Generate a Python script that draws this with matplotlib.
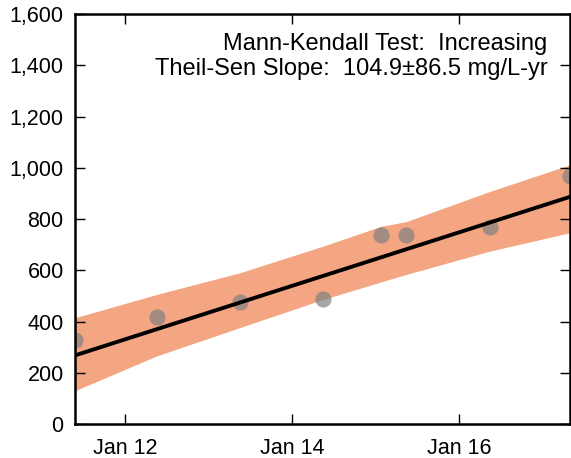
import numpy as np
import matplotlib
matplotlib.use('Agg')
import matplotlib.pyplot as plt
import matplotlib.dates as mdates
import pandas as pd

plt.rcParams['font.family'] = 'Liberation Sans'
plt.rcParams['font.size'] = 15

# sample dates and measured concentrations
dates = pd.to_datetime(['2011-05-27', '2012-05-19', '2013-05-19', '2014-05-15',
                        '2015-01-26', '2015-05-15', '2016-05-15', '2017-05-01'])
conc = [330, 420, 478, 490, 740, 740, 770, 970]

# confidence band around the Theil-Sen line
band_lower = [130, 266, 377, 486, 555, 584, 675, 747]
band_upper = [415, 506, 591, 694, 772, 790, 908, 1012]

# trend line endpoints
trend_x = [dates[0], dates[-1]]
trend_y = [268, 887]

fig = plt.figure(figsize=(5.71, 4.58), dpi=100)
ax = fig.add_axes([0.131, 0.074, 0.867, 0.895])

ax.fill_between(dates, band_lower, band_upper, color='#f4a582', linewidth=0, zorder=1)
ax.scatter(dates, conc, s=135, color='#808080', alpha=0.7, linewidths=0, zorder=2)
ax.plot(trend_x, trend_y, color='black', linewidth=2.8, zorder=3)

ax.set_xlim(dates[0], dates[-1])
ax.set_ylim(0, 1600)
ax.set_yticks(np.arange(0, 1601, 200))
ax.yaxis.set_major_formatter(matplotlib.ticker.FuncFormatter(lambda v, p: '{:,.0f}'.format(v)))
ax.xaxis.set_major_locator(mdates.YearLocator(2))
ax.xaxis.set_major_formatter(mdates.DateFormatter('%b %y'))

ax.tick_params(direction='in', length=7.5, width=1, top=True, right=True,
               labelsize=15.5)
ax.tick_params(axis='y', pad=8)
ax.tick_params(axis='x', pad=10)
for s in ax.spines.values():
    s.set_linewidth(1.8)

ax.text(0.955, 0.955, 'Mann-Kendall Test:  Increasing\nTheil-Sen Slope:  104.9\u00b186.5 mg/L-yr',
        transform=ax.transAxes, ha='right', va='top', fontsize=17, linespacing=1.2)

fig.savefig('out.png', dpi=100)
